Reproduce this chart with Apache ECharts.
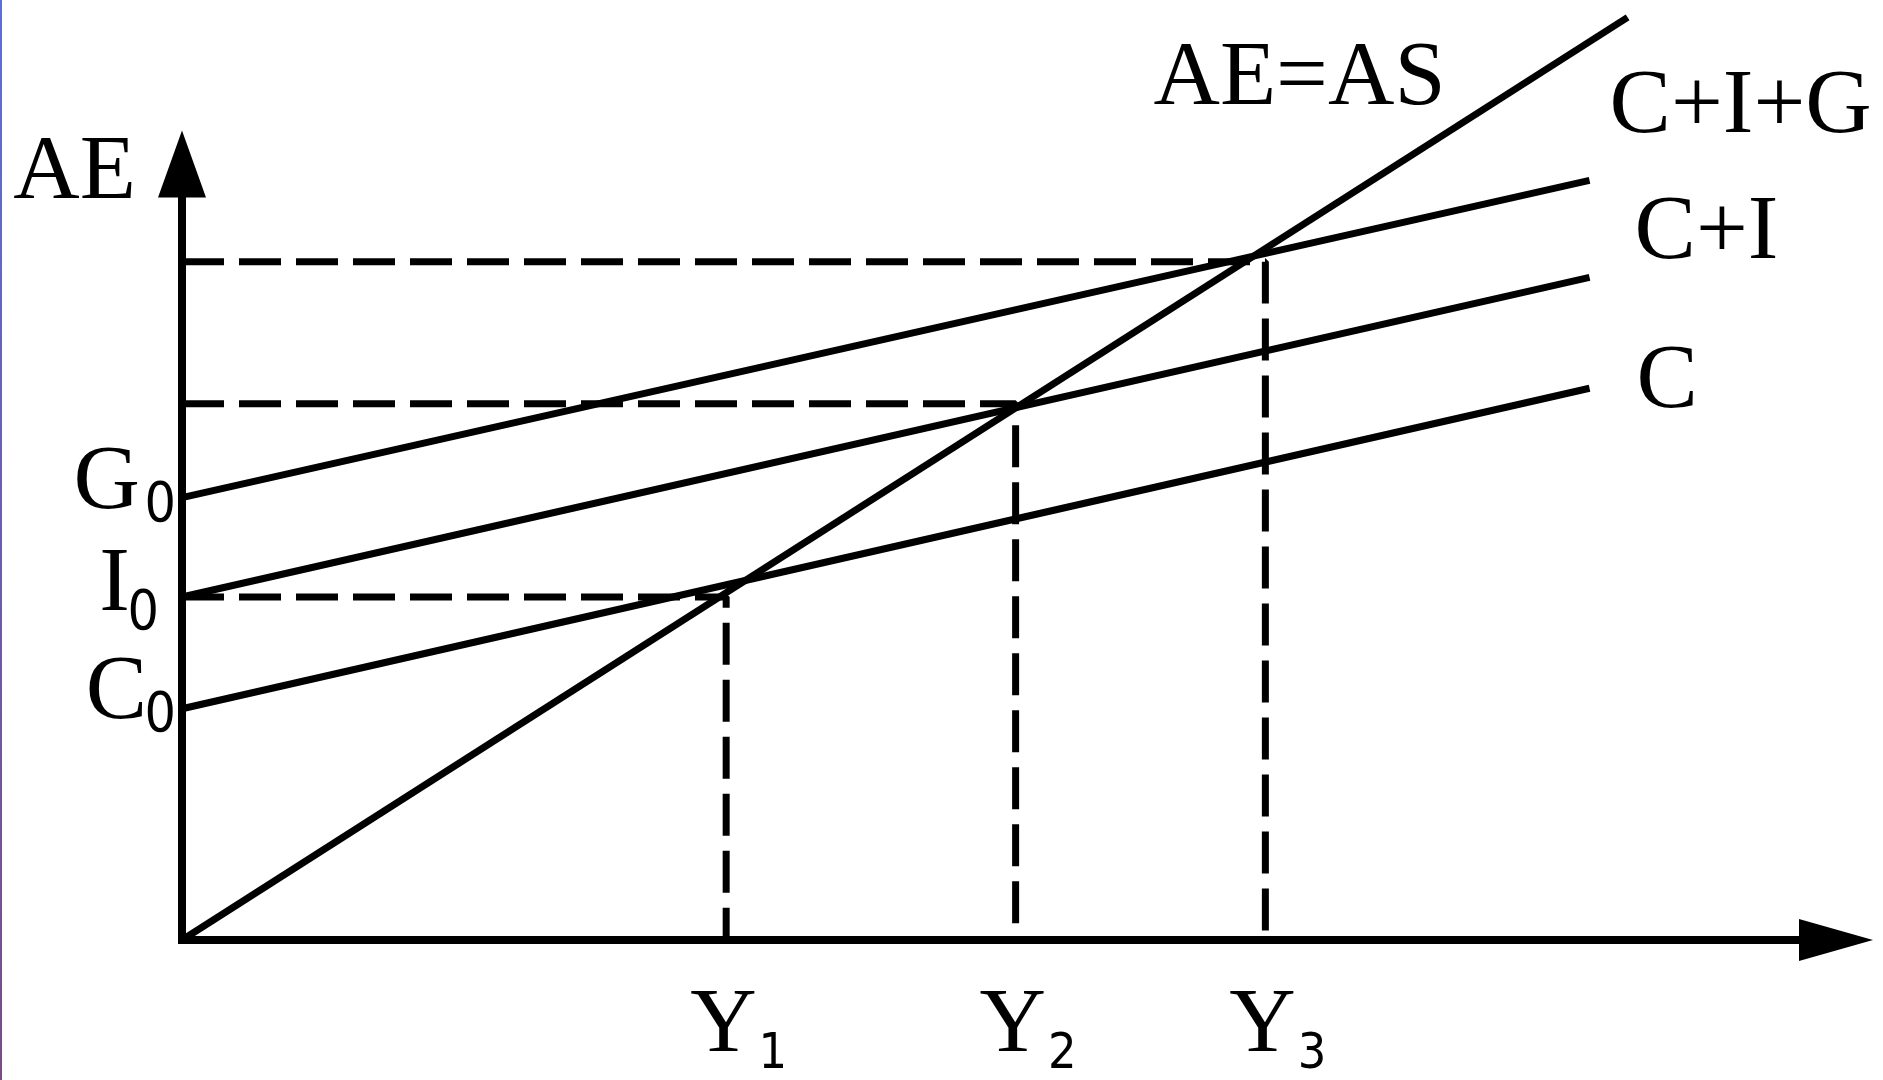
<!DOCTYPE html>
<html>
<head>
<meta charset="utf-8">
<title>AE = AS</title>
<script src="https://cdn.jsdelivr.net/npm/echarts@6/dist/echarts.min.js"></script>
<style>
  html, body { margin: 0; padding: 0; background: #fff; }
  #chart { width: 1883px; height: 1080px; }
</style>
</head>
<body>
<div id="chart"></div>
<script>
// incomes marked on the horizontal axis (Y1, Y2, Y3)
const incomeSubs = ['1', '2', '3'];
const incomeValues = [32.9, 50.4, 65.5];
// intercepts on the vertical axis (C0, I0, G0)
const interceptNames = ['C', 'I', 'G'];
const interceptValues = [29.8, 44.2, 57.0];
// spending lines, from their intercept to lineEndX
const lineNames = ['C', 'C+I', 'C+I+G'];
const lineEndX = 85.1;
const lineEndValues = [71.1, 85.4, 97.9];
// the AE=AS line
const aeasX = [0, 87.4];
const aeasY = [0, 118.9];
// heights of the dashed guides at Y1, Y2, Y3
const guideLevels = [44.2, 69.1, 87.4];

const serif = "'Liberation Serif', 'Times New Roman', serif";
const narrow = "'Liberation Sans Narrow', 'DejaVu Sans Condensed', 'Liberation Sans', sans-serif";
// label placement (pixels)
const lineLabelOffsets = [[47, -5], [45, -43], [20, -72]];
const letterOffsets = [[-35, -14.5], [-52, -11.5], [-42, -14]];
const subOffsets = [[-6, 8], [-23, 17.5], [-6, 9.5]];

function findIndex (list, v) {
  for (let i = 0; i < list.length; i++) {
    if (Math.abs(list[i] - v) < 1e-6) return i;
  }
  return -1;
}

let series = [];

// dashed guides first so the solid lines sit on top
incomeValues.forEach(function (y, i) {
  series.push({
    type: 'line',
    symbol: 'none',
    silent: true,
    z: 1,
    data: [[0, guideLevels[i]], [y, guideLevels[i]], [y, 0]],
    lineStyle: { color: '#000', width: 7, type: [42, 15] }
  });
});

lineNames.forEach(function (name, i) {
  series.push({
    type: 'line',
    name: name,
    symbol: 'none',
    z: 3,
    data: [[0, interceptValues[i]], [lineEndX, lineEndValues[i]]],
    lineStyle: { color: '#000', width: 7 },
    endLabel: {
      show: true,
      formatter: name,
      align: 'left',
      verticalAlign: 'middle',
      distance: 0,
      offset: lineLabelOffsets[i],
      color: '#000',
      fontSize: 92,
      fontFamily: serif
    }
  });
});

series.push({
  type: 'line',
  name: 'AE=AS',
  symbol: 'none',
  clip: false,
  z: 3,
  data: aeasX.map(function (x, i) { return [x, aeasY[i]]; }),
  lineStyle: { color: '#000', width: 7 },
  endLabel: {
    show: true,
    formatter: 'AE=AS',
    align: 'right',
    verticalAlign: 'middle',
    distance: 0,
    offset: [-182, 63],
    color: '#000',
    fontSize: 92,
    fontFamily: serif
  }
});

// intercept names C0, I0, G0 next to the vertical axis
series.push({
  type: 'scatter',
  symbolSize: 0,
  clip: false,
  silent: true,
  itemStyle: { opacity: 1 },
  data: interceptValues.map(function (v, i) {
    return { value: [0, v], label: { formatter: interceptNames[i], offset: letterOffsets[i] } };
  }),
  label: {
    show: true,
    position: 'left',
    distance: 0,
    align: 'right',
    verticalAlign: 'middle',
    color: '#000',
    opacity: 1,
    fontSize: 92,
    fontFamily: serif
  }
});
series.push({
  type: 'scatter',
  symbolSize: 0,
  clip: false,
  silent: true,
  itemStyle: { opacity: 1 },
  data: interceptValues.map(function (v, i) {
    return { value: [0, v], label: { formatter: '0', offset: subOffsets[i] } };
  }),
  label: {
    show: true,
    position: 'left',
    distance: 0,
    align: 'right',
    verticalAlign: 'middle',
    color: '#000',
    opacity: 1,
    fontSize: 55,
    fontFamily: narrow
  }
});

const option = {
  backgroundColor: '#fff',
  animation: false,
  textStyle: { fontFamily: serif, color: '#000' },
  grid: { left: 182, right: 47, top: 164, bottom: 140 },
  xAxis: {
    type: 'value',
    min: 0,
    max: 100,
    splitLine: { show: false },
    axisTick: { show: false },
    axisLine: {
      symbol: ['none', 'triangle'],
      symbolSize: [42, 74],
      lineStyle: { color: '#000', width: 8, cap: 'square' }
    },
    axisLabel: {
      customValues: incomeValues,
      hideOverlap: false,
      margin: 41,
      formatter: function (v) {
        return '{m|Y}{s|' + incomeSubs[findIndex(incomeValues, v)] + '}';
      },
      rich: {
        m: { fontSize: 92, lineHeight: 92, fontFamily: serif, color: '#000', verticalAlign: 'top', padding: [0, 0, 0, 25] },
        s: { fontSize: 50, lineHeight: 50, fontFamily: narrow, color: '#000', verticalAlign: 'top', padding: [49, 0, 0, 2] }
      }
    }
  },
  yAxis: {
    type: 'value',
    min: 0,
    max: 100,
    name: 'AE',
    nameLocation: 'end',
    nameGap: -10,
    nameTextStyle: {
      fontSize: 92,
      fontFamily: serif,
      color: '#000',
      align: 'right',
      verticalAlign: 'middle',
      padding: [0, 46, 0, 0]
    },
    splitLine: { show: false },
    axisTick: { show: false },
    axisLabel: { show: false },
    axisLine: {
      symbol: ['none', 'triangle'],
      symbolSize: [48, 67],
      lineStyle: { color: '#000', width: 8, cap: 'square' }
    }
  },
  graphic: [{
    type: 'rect',
    left: 0,
    top: 0,
    shape: { width: 2, height: 1080 },
    style: {
      fill: new echarts.graphic.LinearGradient(0, 0, 0, 1, [
        { offset: 0, color: '#5c6fd8' },
        { offset: 1, color: '#7a4c84' }
      ])
    }
  }],
  series: series
};

let chart = echarts.init(document.getElementById('chart'));
chart.setOption(option);
</script>
</body>
</html>
